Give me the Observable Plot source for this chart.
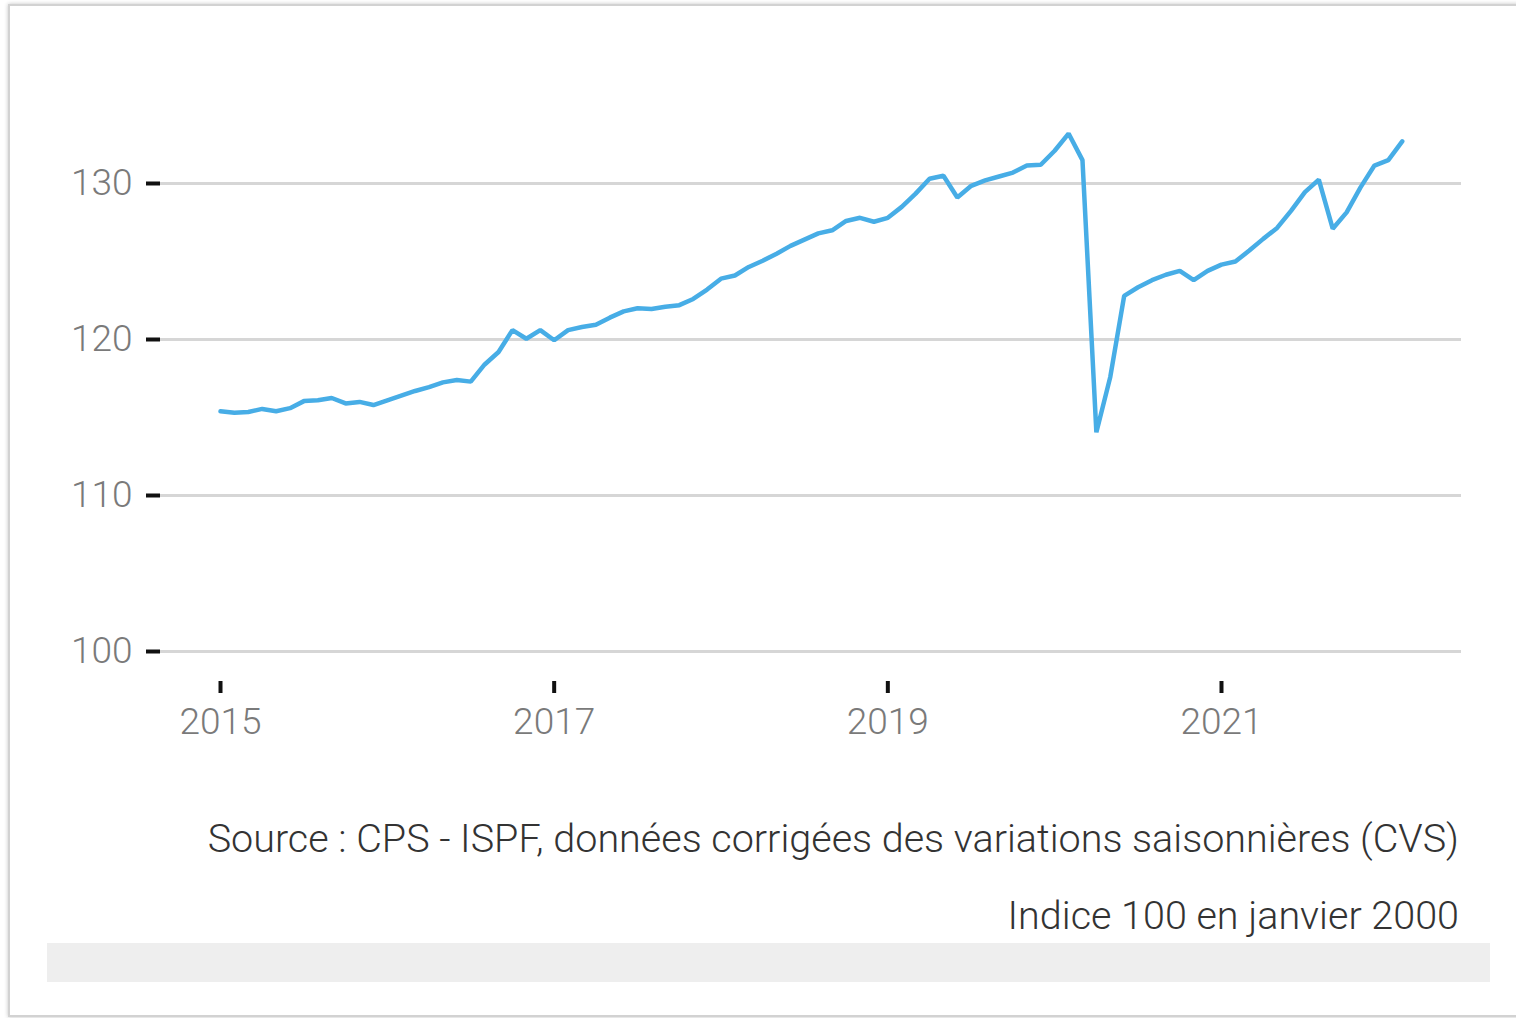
<!DOCTYPE html>
<html>
<head>
<meta charset="utf-8">
<script src="https://cdn.jsdelivr.net/npm/d3@7"></script>
<script src="https://cdn.jsdelivr.net/npm/@observablehq/plot@0.6"></script>
<style>
  html, body { margin: 0; padding: 0; background: #ffffff; width: 1516px; height: 1018px; overflow: hidden; }
  #frame { position: absolute; left: 8px; top: 4px; width: 1600px; height: 1009px; border: 2px solid #d2d2d2; box-shadow: 0 0 4px #c4c4c4; background: #fff; }
  #chart { position: absolute; left: 0; top: 0; }
  .cap { position: absolute; right: 57px; font-family: Roboto, "Noto Sans", sans-serif; font-size: 39.5px; line-height: 39px; color: #333; font-weight: 300; white-space: nowrap; }
  #bar { position: absolute; left: 47px; top: 943px; width: 1443px; height: 39px; background: #eeeeee; }
</style>
</head>
<body>
<div id="frame"></div>
<div id="chart"></div>
<div class="cap" id="source" style="top:819px">Source : CPS - ISPF, données corrigées des variations saisonnières (CVS)</div>
<div class="cap" id="note" style="top:896px">Indice 100 en janvier 2000</div>
<div id="bar"></div>
<script>
// Monthly index, January 2015 to February 2022
const startYear = 2015;
const values = [
  115.4, 115.3, 115.35, 115.55, 115.4, 115.6, 116.05, 116.1, 116.25, 115.9, 116.0, 115.8,   // 2015
  116.1, 116.4, 116.7, 116.95, 117.25, 117.4, 117.3, 118.4, 119.2, 120.6, 120.05, 120.6,   // 2016
  119.95, 120.6, 120.8, 120.95, 121.4, 121.8, 122.0, 121.95, 122.1, 122.2, 122.6, 123.2,   // 2017
  123.9, 124.1, 124.65, 125.05, 125.5, 126.0, 126.4, 126.8, 127.0, 127.6, 127.8, 127.55,   // 2018
  127.8, 128.5, 129.35, 130.3, 130.5, 129.1, 129.85, 130.2, 130.45, 130.7, 131.15, 131.2,  // 2019
  132.1, 133.2, 131.5, 114.05, 117.6, 122.8, 123.35, 123.8, 124.15, 124.4, 123.8, 124.4,   // 2020
  124.8, 125.0, 125.7, 126.45, 127.15, 128.25, 129.45, 130.25, 127.1, 128.15, 129.75, 131.15, // 2021
  131.5, 132.7                                                                               // 2022
];
const xTicks = [2015, 2017, 2019, 2021];
const yTicks = [100, 110, 120, 130];

const data = values.map((v, i) => ({t: startYear + i / 12, v}));

const chart = Plot.plot({
  width: 1516,
  height: 780,
  marginLeft: 160,
  marginRight: 55,
  marginTop: 100,
  marginBottom: 99,
  x: {domain: [2014.6403, 2022.4386], label: null},
  y: {domain: [98.077, 135.32], label: null},
  style: {fontFamily: "Roboto, 'Noto Sans', sans-serif", fontSize: "37px", fontWeight: 300, background: "transparent", overflow: "visible"},
  marks: [
    Plot.gridY(yTicks, {stroke: "#d6d6d6", strokeWidth: 3, strokeOpacity: 1}),
    Plot.axisY(yTicks, {tickSize: 14, tickPadding: 14, stroke: "#111", strokeWidth: 4, fill: "#7a7a7a", label: null}),
    Plot.axisX(xTicks, {tickSize: 12, tickPadding: 14, stroke: "#111", strokeWidth: 4, fill: "#7a7a7a", tickFormat: d => String(d), label: null}),
    Plot.lineY(data, {x: "t", y: "v", stroke: "#47ade6", strokeWidth: 4.5, strokeLinejoin: "miter"})
  ]
});
document.getElementById("chart").appendChild(chart);
</script>
</body>
</html>
